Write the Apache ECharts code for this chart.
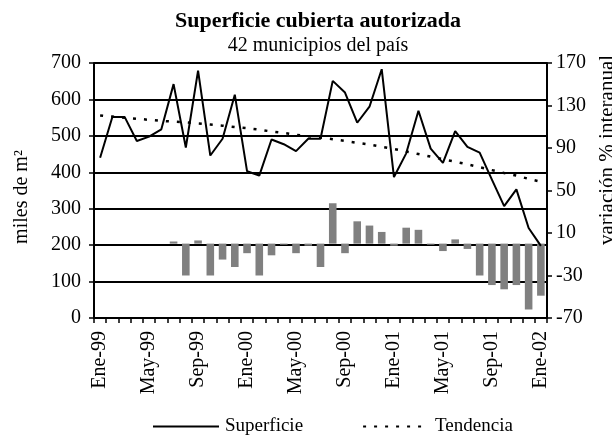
<!DOCTYPE html>
<html>
<head>
<meta charset="utf-8">
<script src="https://cdn.jsdelivr.net/npm/echarts@6/dist/echarts.min.js"></script>
<style>
html,body{margin:0;padding:0;background:#fff;}
#chart{width:612px;height:436px;}
</style>
</head>
<body>
<div id="chart"></div>
<script>
const categories = ['Ene-99','Feb-99','Mar-99','Abr-99','May-99','Jun-99','Jul-99','Ago-99','Sep-99','Oct-99','Nov-99','Dic-99',
  'Ene-00','Feb-00','Mar-00','Abr-00','May-00','Jun-00','Jul-00','Ago-00','Sep-00','Oct-00','Nov-00','Dic-00',
  'Ene-01','Feb-01','Mar-01','Abr-01','May-01','Jun-01','Jul-01','Ago-01','Sep-01','Oct-01','Nov-01','Dic-01','Ene-02'];
const superficie = [440,552,552,486,498,518,642,468,679,446,492,613,
  403,391,490,477,458,492,492,651,619,536,580,683,
  387,452,569,465,426,513,470,454,380,307,353,247,198];
const tendencia = [556,553,550,547,544,541,539,537,534,531,528,524,
  521,517,512,508,503,499,495,491,486,481,476,470,
  464,457,450,443,436,429,422,414,406,398,391,382,374];
const variacion = [null,null,null,null,null,null,2,-30,3,-30,-15,-22,
  -9,-30,-11,-1,-9,-2,-22,38,-9,21,17,11,
  -2,15,13,-1,-7,4,-5,-30,-39,-43,-39,-62,-49];
const leftTicks = [0,100,200,300,400,500,600,700];
const rightTicks = [-70,-30,10,50,90,130,170];

const FONT = 'Liberation Serif';
const chart = echarts.init(document.getElementById('chart'), null, {renderer:'canvas'});
chart.setOption({
  animation: false,
  textStyle: {fontFamily: FONT, color: '#000'},
  title: [
    {text: 'Superficie cubierta autorizada', left: 313, top: 5, textAlign: 'center',
     textStyle: {fontFamily: FONT, fontWeight: 'bold', fontSize: 22, color: '#000'}},
    {text: '42 municipios del país', left: 313, top: 31, textAlign: 'center',
     textStyle: {fontFamily: FONT, fontWeight: 'normal', fontSize: 20, color: '#000'}}
  ],
  graphic: [
    {type: 'text', x: 22, y: 197, rotation: Math.PI/2,
     style: {text: 'miles de m²', font: '20px "Liberation Serif"', fill: '#000', align: 'center', verticalAlign: 'middle'}},
    {type: 'text', x: 607, y: 150, rotation: Math.PI/2,
     style: {text: 'variación % interanual', font: '21px "Liberation Serif"', fill: '#000', align: 'center', verticalAlign: 'middle'}}
  ],
  legend: {
    data: ['Superficie', 'Tendencia'],
    left: 147, top: 412,
    itemWidth: 66, itemHeight: 14, itemGap: 59,
    itemStyle: {opacity: 0},
    textStyle: {fontFamily: FONT, fontSize: 19, color: '#000', padding: [0,0,0,1]}
  },
  grid: {left: 94, right: 65, top: 63, bottom: 118, containLabel: false},
  xAxis: {
    type: 'category', data: categories, boundaryGap: true,
    axisLine: {lineStyle: {color: '#000', width: 2}},
    axisTick: {show: true, interval: 0, length: 5, lineStyle: {color: '#000', width: 1.5}},
    axisLabel: {interval: 3, rotate: 90, margin: 13, fontFamily: FONT, fontSize: 20, color: '#000'},
    splitLine: {show: false}
  },
  yAxis: [
    {type: 'value', min: 0, max: 700, interval: 100, position: 'left',
     axisLine: {show: true, lineStyle: {color: '#000', width: 2}},
     axisTick: {show: true, length: 5, lineStyle: {color: '#000', width: 1.5}},
     axisLabel: {margin: 13, fontFamily: FONT, fontSize: 20, color: '#000'},
     splitLine: {show: true, lineStyle: {color: '#000', width: 2}}},
    {type: 'value', min: -70, max: 170, position: 'right',
     axisLine: {show: true, lineStyle: {color: '#000', width: 2}},
     axisTick: {show: true, length: 5, customValues: rightTicks, lineStyle: {color: '#000', width: 1.5}},
     axisLabel: {margin: 9, customValues: rightTicks, fontFamily: FONT, fontSize: 20, color: '#000'},
     splitLine: {show: false}}
  ],
  series: [
    {name: 'Variación', type: 'bar', yAxisIndex: 1, data: variacion,
     barWidth: '62%', itemStyle: {color: '#808080'}, z: 1},
    {name: 'Superficie', type: 'line', yAxisIndex: 0, data: superficie,
     symbol: 'none', lineStyle: {color: '#000', width: 2}, itemStyle: {color: '#000'}, z: 3},
    {name: 'Tendencia', type: 'line', yAxisIndex: 0, data: tendencia,
     symbol: 'none', smooth: false, lineStyle: {color: '#000', width: 2.5, type: [3, 8]}, itemStyle: {color: '#000'}, z: 3}
  ]
});
</script>
</body>
</html>
